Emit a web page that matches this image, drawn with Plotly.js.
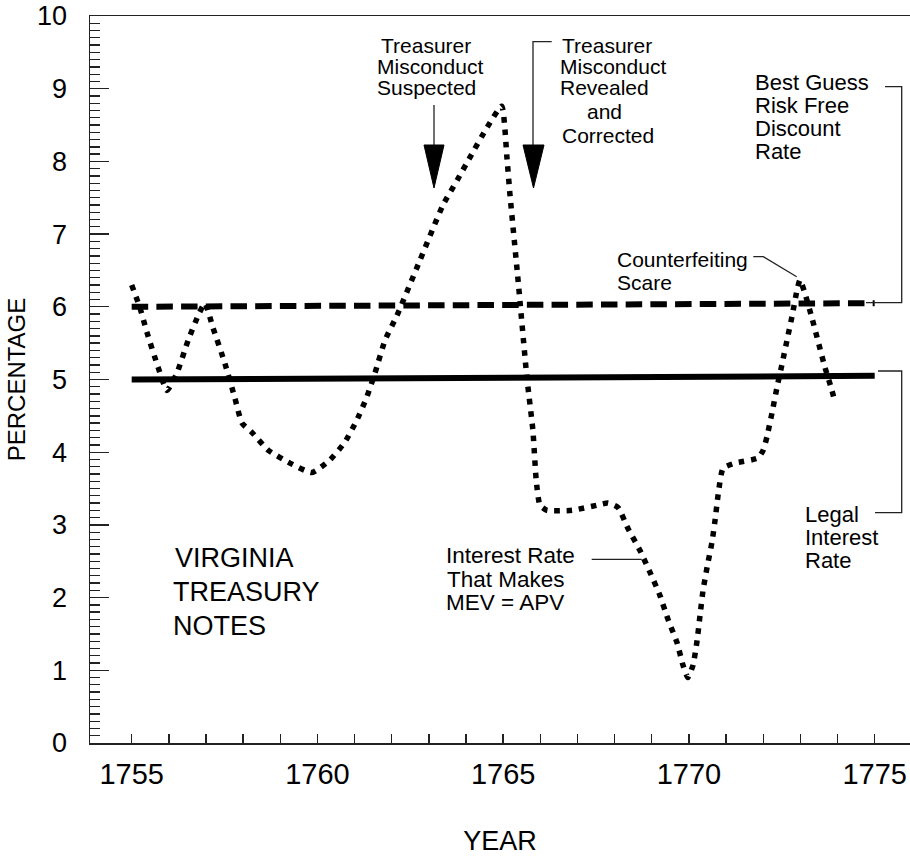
<!DOCTYPE html>
<html>
<head>
<meta charset="utf-8">
<script src="https://cdn.plot.ly/plotly-3.0.1.min.js"></script>
<style>
html, body { margin: 0; padding: 0; background: #fff; }
#chart { width: 910px; height: 856px; }
</style>
</head>
<body>
<div id="chart"></div>
<script>
// ---------------- data ----------------
// Interest rate that makes MEV = APV
const curveYear = [
  1755.00, 1755.22, 1755.41, 1755.71, 1755.95, 1756.22, 1756.52, 1756.79, 1756.97,
  1757.19, 1757.51, 1757.78, 1757.97, 1758.24, 1758.67, 1759.26, 1759.85, 1760.33,
  1760.74, 1761.06, 1761.33, 1761.55, 1761.82, 1762.14, 1762.76, 1763.38, 1763.76,
  1764.11, 1764.57, 1764.96, 1765.10, 1765.18, 1765.40, 1765.64, 1765.80, 1765.89,
  1765.99, 1766.18, 1766.85, 1767.52, 1767.82, 1768.09, 1768.36, 1768.68, 1768.95,
  1769.22, 1769.43, 1769.68, 1769.84, 1769.97, 1770.11, 1770.22, 1770.30, 1770.38,
  1770.49, 1770.62, 1770.71, 1770.79, 1770.92, 1771.24, 1771.86, 1772.00, 1772.10,
  1772.24, 1772.37, 1772.51, 1772.64, 1772.78, 1772.91, 1772.99, 1773.12, 1773.31,
  1773.66, 1773.85, 1773.93
];
const curveRate = [
  6.30, 5.99, 5.65, 5.17, 4.85, 5.09, 5.54, 5.88, 6.05,
  5.71, 5.22, 4.74, 4.40, 4.27, 4.03, 3.85, 3.72, 3.89,
  4.14, 4.44, 4.76, 5.09, 5.54, 5.88, 6.64, 7.40, 7.74,
  8.06, 8.47, 8.76, 8.06, 7.56, 6.37, 5.02, 4.30, 3.61,
  3.27, 3.20, 3.20, 3.27, 3.30, 3.24, 2.95, 2.65, 2.35,
  2.03, 1.71, 1.38, 1.07, 0.90, 1.07, 1.41, 1.76, 2.10,
  2.42, 2.76, 3.09, 3.43, 3.78, 3.85, 3.92, 4.03, 4.21,
  4.55, 4.89, 5.22, 5.54, 5.88, 6.23, 6.37, 6.19, 5.85,
  5.17, 4.85, 4.69
];
// Legal interest rate
const legalYear = [1755, 1775];
const legalRate = [5.00, 5.05];
// Best guess risk free discount rate
const discountYear = [1755, 1775];
const discountRate = [6.00, 6.05];
// X axis ticks (one per year, labelled every five years)
const xTickVals = [1755, 1756, 1757, 1758, 1759, 1760, 1761, 1762, 1763, 1764, 1765,
                   1766, 1767, 1768, 1769, 1770, 1771, 1772, 1773, 1774, 1775];
const xTickText = ['1755', '', '', '', '', '1760', '', '', '', '', '1765',
                   '', '', '', '', '1770', '', '', '', '', '1775'];

// ---------------- layout helpers ----------------
const FONT = '"Liberation Sans", Arial, Helvetica, sans-serif';
const W = 910, H = 856;
const M = { l: 90, r: 0, t: 16, b: 113 };
const XR = [1753.878, 1775.951];
const YR = [0, 10];
const plotW = W - M.l - M.r, plotH = H - M.t - M.b;
// convert page pixel positions (for labels/leaders only) to axis coordinates
const X = px => XR[0] + (px - M.l) / plotW * (XR[1] - XR[0]);
const Y = py => YR[1] - (py - M.t) / plotH * (YR[1] - YR[0]);

// text lines: [text, left px, baseline px, font size]
const textLines = [
  ['Treasurer', 380.7, 52.3, 21],
  ['Misconduct', 376.7, 73.5, 21],
  ['Suspected', 376.7, 95.0, 21],
  ['Treasurer', 561.7, 52.3, 21],
  ['Misconduct', 560.0, 73.5, 21],
  ['Revealed', 560.0, 95.0, 21],
  ['and', 586.7, 119.0, 21],
  ['Corrected', 561.7, 142.7, 21],
  ['Best Guess', 755.0, 90.5, 22],
  ['Risk Free', 755.0, 113.5, 22],
  ['Discount', 755.0, 136.5, 22],
  ['Rate', 755.0, 159.5, 22],
  ['Counterfeiting', 616.7, 266.7, 21],
  ['Scare', 616.7, 290.0, 21],
  ['Interest Rate', 446.0, 563.3, 22.5],
  ['That Makes', 446.7, 587.0, 22.5],
  ['MEV = APV', 446.0, 610.5, 22.5],
  ['Legal', 805.0, 522.5, 22],
  ['Interest', 805.0, 545.5, 22],
  ['Rate', 805.0, 568.5, 22],
  ['VIRGINIA', 175.0, 567.0, 27],
  ['TREASURY', 173.3, 601.5, 27],
  ['NOTES', 173.3, 635.5, 27]
];
const annotations = textLines.map(([t, lx, bl, s]) => ({
  text: t, showarrow: false, xref: 'x', yref: 'y',
  x: X(lx - 2), y: Y(bl - 0.3465 * s),
  xanchor: 'left', yanchor: 'middle',
  font: { family: FONT, size: s, color: '#000' }
}));

// leader lines and arrows (page pixels)
const leaders = [
  [[434, 105], [434, 147]],
  [[551.7, 41.7], [533, 41.7], [533, 147]],
  [[885, 86.7], [901.7, 86.7], [901.7, 302.7], [866, 302.7]],
  [[753.3, 256.7], [763.3, 256.7], [796.7, 276.7]],
  [[591.7, 559.3], [641.7, 559.3]],
  [[875, 512.7], [901.7, 512.7], [901.7, 371], [878, 371]]
];
const heads = [
  [[424, 145], [444, 145], [434, 188]],
  [[523, 145], [544, 145], [533.5, 188]]
];
const pathOf = (pts, close) =>
  pts.map((p, i) => (i ? 'L' : 'M') + X(p[0]) + ',' + Y(p[1])).join(' ') + (close ? ' Z' : '');
const shapes = [];
leaders.forEach(pts => shapes.push({
  type: 'path', xref: 'x', yref: 'y', path: pathOf(pts, false),
  line: { color: '#222', width: 1.3 }
}));
heads.forEach(pts => shapes.push({
  type: 'path', xref: 'x', yref: 'y', path: pathOf(pts, true),
  fillcolor: '#000', line: { color: '#000', width: 1 }
}));

// ---------------- traces ----------------
const traces = [
  {
    // drawn on overlay axis y2 (same range/domain as y), which carries the 0.1 minor ticks
    x: legalYear, y: legalRate, type: 'scatter', mode: 'lines', yaxis: 'y2',
    name: 'Legal Interest Rate',
    line: { color: '#000', width: 6 }, hoverinfo: 'x+y'
  },
  {
    x: discountYear, y: discountRate, type: 'scatter', mode: 'lines',
    name: 'Best Guess Risk Free Discount Rate',
    line: { color: '#000', width: 6, dash: '16.5px,8.2px' }, hoverinfo: 'x+y'
  },
  {
    x: curveYear, y: curveRate, type: 'scatter', mode: 'lines',
    name: 'Interest Rate That Makes MEV = APV',
    line: { color: '#000', width: 5.5, dash: '5.5px,6.8px', shape: 'spline', smoothing: 0.5 },
    hoverinfo: 'x+y'
  }
];

const layout = {
  width: W, height: H,
  margin: M,
  paper_bgcolor: '#fff', plot_bgcolor: '#fff',
  showlegend: false,
  font: { family: FONT, color: '#000' },
  xaxis: {
    range: XR, autorange: false, fixedrange: true,
    showgrid: false, zeroline: false,
    showline: true, linecolor: '#222', linewidth: 1.5, mirror: true,
    tickmode: 'array', tickvals: xTickVals, ticktext: xTickText,
    ticks: 'inside', ticklen: 9, tickwidth: 1.4, tickcolor: '#222',
    ticklabelstandoff: 5,
    tickfont: { family: FONT, size: 29, color: '#000' },
    title: { text: 'YEAR', font: { family: FONT, size: 27, color: '#000' }, standoff: 46 }
  },
  yaxis: {
    range: YR, autorange: false, fixedrange: true,
    showgrid: false, zeroline: false,
    showline: true, linecolor: '#222', linewidth: 1.5, mirror: false,
    tickmode: 'linear', tick0: 0, dtick: 1,
    ticks: 'inside', ticklen: 19, tickwidth: 1.4, tickcolor: '#222',
    ticklabelstandoff: 16,
    tickfont: { family: FONT, size: 27, color: '#000' },
    title: { text: 'PERCENTAGE', font: { family: FONT, size: 24, color: '#000' }, standoff: 4 }
  },
  yaxis2: {
    overlaying: 'y', side: 'left', anchor: 'x',
    range: YR, autorange: false, fixedrange: true,
    showgrid: false, zeroline: false, showline: false, showticklabels: false,
    tickmode: 'linear', tick0: 0, dtick: 0.1,
    ticks: 'inside', ticklen: 10, tickwidth: 1.3, tickcolor: '#222'
  },
  annotations: annotations,
  shapes: shapes
};

Plotly.newPlot('chart', traces, layout, { displayModeBar: false, staticPlot: true });
</script>
</body>
</html>
